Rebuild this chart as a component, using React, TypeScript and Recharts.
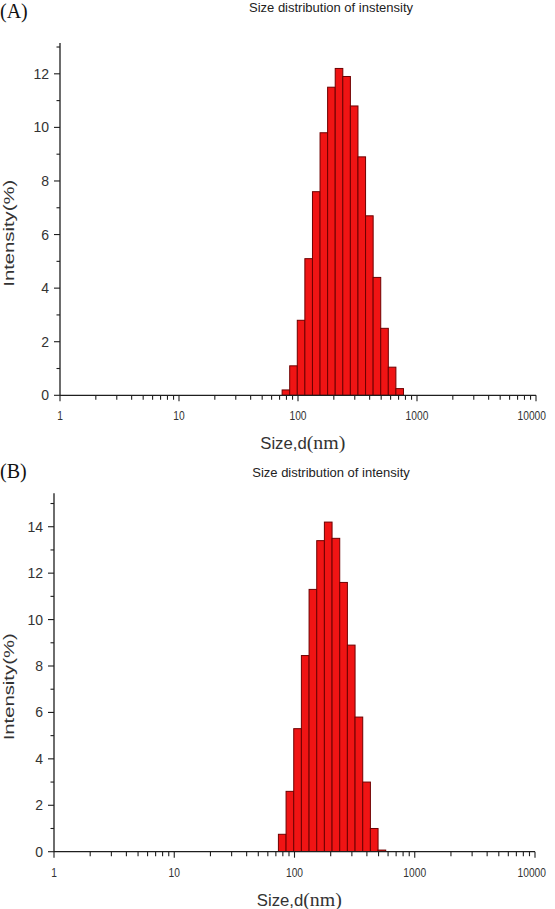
import React from 'react';
import { ComposedChart, Bar, XAxis, YAxis } from 'recharts';

// Bin centres (nm) and intensity (%)
const sizeBinsA = [78.82, 91.28, 105.7, 122.4, 141.8, 164.2, 190.1, 220.2, 255.0, 295.3, 342.0, 396.1, 458.7, 531.2, 615.1, 712.4];
const intensityA = [0.2, 1.1, 2.8, 5.1, 7.6, 9.8, 11.5, 12.2, 11.9, 10.8, 8.9, 6.7, 4.4, 2.5, 1.05, 0.25];
const sizeBinsB = [78.82, 91.28, 105.7, 122.4, 141.8, 164.2, 190.1, 220.2, 255.0, 295.3, 342.0, 396.1, 458.7, 531.2];
const intensityB = [0.75, 2.6, 5.3, 8.45, 11.3, 13.4, 14.2, 13.5, 11.6, 8.9, 5.8, 3.0, 1.0, 0.07];

const xTicks = [
  1, 2, 3, 4, 5, 6, 7, 8, 9,
  10, 20, 30, 40, 50, 60, 70, 80, 90,
  100, 200, 300, 400, 500, 600, 700, 800, 900,
  1000, 2000, 3000, 4000, 5000, 6000, 7000, 8000, 9000,
  10000,
];
const xMajor = [1, 10, 100, 1000, 10000];
const yTicksA = [0, 1, 2, 3, 4, 5, 6, 7, 8, 9, 10, 11, 12, 13];
const yTicksB = [0, 1, 2, 3, 4, 5, 6, 7, 8, 9, 10, 11, 12, 13, 14, 15];

const titleA = 'Size distribution of instensity';
const titleB = 'Size distribution of intensity';
const panelA = '(A)';
const panelB = '(B)';

const SANS = '"Liberation Sans", Arial, sans-serif';
const SERIF = '"Liberation Serif", "Times New Roman", serif';
const AXIS = '#1e1e1e';
const BIN_RATIO = 1.1583;

const makeShape = (w: number) => (props: any) => {
  const { x, y, width, height } = props;
  if (height == null || !(height > 0)) return <g />;
  const cx = x + width / 2;
  return (
    <rect x={cx - w / 2} y={y} width={w} height={height} fill="#f01414" stroke="#6e0000" strokeWidth={1} />
  );
};

const XTick = (props: any) => {
  const { x, y, payload } = props;
  const v = payload.value;
  const major = xMajor.includes(v);
  const s = String(v);
  const len = s.length * 5.7;
  const right = Math.min(x + len / 2, 546);
  return (
    <g>
      <line x1={x} x2={x} y1={y} y2={y + (major ? 6 : 4.5)} stroke={AXIS} strokeWidth={1.1} />
      {major && (
        <text
          x={right}
          y={y + 25}
          textAnchor="end"
          fontSize={13}
          fill="#333"
          fontFamily={SANS}
          textLength={len}
          lengthAdjust="spacingAndGlyphs"
        >
          {s}
        </text>
      )}
    </g>
  );
};

const YTick = (props: any) => {
  const { x, y, payload } = props;
  const v = payload.value;
  const major = v % 2 === 0;
  return (
    <g>
      <line x1={x - (major ? 6 : 3.5)} x2={x} y1={y} y2={y} stroke={AXIS} strokeWidth={1.1} />
      {major && (
        <text x={x - 11} y={y + 5} textAnchor="end" fontSize={14} fill="#333" fontFamily={SANS}>
          {v}
        </text>
      )}
    </g>
  );
};

type PanelProps = {
  sizes: number[];
  values: number[];
  yTicks: number[];
  yMax: number;
  title: string;
  panel: string;
  height: number;
  top: number;
  left: number;
  right: number;
  plotBottom: number;
  titleY: number;
  panelY: number;
};

const Panel = (p: PanelProps) => {
  const width = 555;
  const xAxisH = 40;
  const yAxisW = p.left - 10;
  const plotW = width - p.left - p.right;
  const barW = (plotW * Math.log10(BIN_RATIO)) / 4;
  const data = p.sizes.map((s, i) => ({ size: s, intensity: p.values[i] }));
  const plotH = p.plotBottom - p.top;
  return (
    <ComposedChart
      width={width}
      height={p.height}
      data={data}
      margin={{ top: p.top, right: p.right, left: 10, bottom: p.height - p.plotBottom - xAxisH }}
    >
      <XAxis
        dataKey="size"
        type="number"
        scale="log"
        domain={[1, 10000]}
        allowDataOverflow
        ticks={xTicks}
        interval={0}
        tickSize={0}
        tickMargin={0}
        tickLine={false}
        height={xAxisH}
        axisLine={{ stroke: AXIS, strokeWidth: 1.3 }}
        tick={<XTick />}
      />
      <YAxis
        type="number"
        domain={[0, p.yMax]}
        allowDataOverflow
        ticks={p.yTicks}
        interval={0}
        tickSize={0}
        tickMargin={0}
        tickLine={false}
        width={yAxisW}
        axisLine={{ stroke: AXIS, strokeWidth: 1.3 }}
        tick={<YTick />}
      />
      <Bar dataKey="intensity" isAnimationActive={false} barSize={6} shape={makeShape(barW)} />
      <text x={0} y={p.panelY} fontFamily={SERIF} fontSize={20} fill="#111">
        {p.panel}
      </text>
      <text x={331} y={p.titleY} textAnchor="middle" fontFamily={SANS} fontSize={13} fill="#222">
        {p.title}
      </text>
      <text
        transform={`translate(13.5, ${p.top + plotH * 0.54}) rotate(-90)`}
        textAnchor="middle"
        fontFamily={SANS}
        fontSize={14}
        fill="#333"
        textLength={107}
        lengthAdjust="spacingAndGlyphs"
      >
        Intensity(%)
      </text>
      <text
        x={p.left + plotW * 0.51}
        y={p.plotBottom + 54}
        textAnchor="middle"
        fill="#333"
        textLength={85}
        lengthAdjust="spacingAndGlyphs"
      >
        <tspan fontFamily={SANS} fontSize={16}>Size,d</tspan>
        <tspan fontFamily={SERIF} fontSize={19}>(nm)</tspan>
      </text>
    </ComposedChart>
  );
};

export default function App() {
  return (
    <div style={{ position: 'absolute', left: 0, top: 0, width: 555, height: 909, background: '#fff' }}>
      <div style={{ position: 'absolute', left: 0, top: 0 }}>
        <Panel
          sizes={sizeBinsA}
          values={intensityA}
          yTicks={yTicksA}
          yMax={13.15}
          title={titleA}
          panel={panelA}
          height={460}
          top={43}
          left={60}
          right={19}
          plotBottom={395.3}
          titleY={12}
          panelY={18}
        />
      </div>
      <div style={{ position: 'absolute', left: 0, top: 460 }}>
        <Panel
          sizes={sizeBinsB}
          values={intensityB}
          yTicks={yTicksB}
          yMax={15.44}
          title={titleB}
          panel={panelB}
          height={449}
          top={33.3}
          left={54}
          right={20}
          plotBottom={391.7}
          titleY={17}
          panelY={18}
        />
      </div>
    </div>
  );
}
